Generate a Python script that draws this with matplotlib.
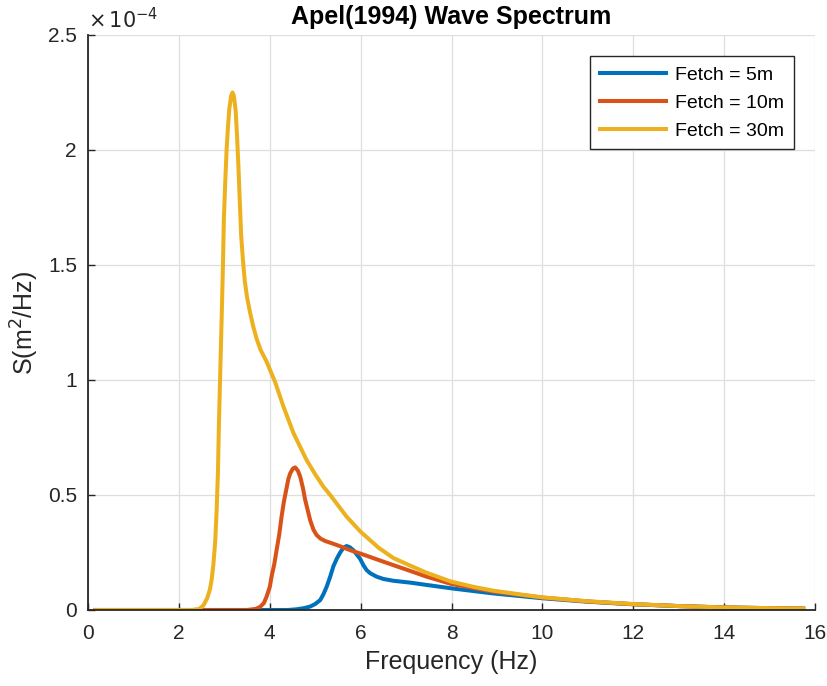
import matplotlib
matplotlib.use('Agg')
import matplotlib.pyplot as plt

# 频率 (Hz) 与谱值 (单位 1e-4 m^2/Hz)
freq_5m = [0.16, 4.40, 4.59, 4.75, 4.89, 5.00, 5.11, 5.18, 5.25, 5.33, 5.40, 5.48, 5.55, 5.62,
           5.69, 5.76, 5.84, 5.92, 5.99, 6.06, 6.13, 6.21, 6.35, 6.50, 6.72, 7.09, 7.45, 8.00,
           8.92, 10.0, 11.0, 12.0, 13.0, 14.0, 15.0, 15.74]
s_5m = [0.0, 0.0, 0.003, 0.008, 0.015, 0.026, 0.043, 0.068, 0.100, 0.145, 0.190, 0.225, 0.250, 0.270,
        0.278, 0.273, 0.260, 0.240, 0.222, 0.195, 0.174, 0.160, 0.145, 0.135, 0.127, 0.119, 0.109, 0.094,
        0.072, 0.051, 0.036, 0.025, 0.017, 0.011, 0.008, 0.006]

freq_10m = [0.16, 3.50, 3.70, 3.79, 3.87, 3.93, 4.00, 4.04, 4.10, 4.15, 4.21, 4.26, 4.31, 4.36,
            4.41, 4.45, 4.51, 4.56, 4.62, 4.67, 4.73, 4.78, 4.84, 4.89, 4.96, 5.03, 5.12, 5.22,
            5.47, 5.77, 6.00, 6.43, 6.72, 7.09, 7.45, 8.00, 8.92, 10.0, 11.0, 12.0, 13.0, 14.0,
            15.0, 15.74]
s_10m = [0.0, 0.0, 0.005, 0.014, 0.030, 0.058, 0.100, 0.145, 0.200, 0.260, 0.330, 0.406, 0.470, 0.520,
         0.570, 0.594, 0.615, 0.620, 0.605, 0.580, 0.530, 0.478, 0.430, 0.390, 0.350, 0.326, 0.310, 0.300,
         0.283, 0.260, 0.245, 0.215, 0.195, 0.170, 0.145, 0.113, 0.080, 0.054, 0.037, 0.025, 0.017, 0.011,
         0.008, 0.006]

freq_30m = [0.16, 2.30, 2.45, 2.54, 2.62, 2.68, 2.72, 2.76, 2.80, 2.83, 2.86, 2.88, 2.91, 2.94,
            2.97, 2.99, 3.02, 3.05, 3.08, 3.11, 3.15, 3.18, 3.21, 3.25, 3.28, 3.31, 3.34, 3.37,
            3.41, 3.45, 3.50, 3.57, 3.64, 3.71, 3.80, 3.93, 4.12, 4.30, 4.52, 4.81, 5.00, 5.18,
            5.33, 5.69, 6.00, 6.40, 6.72, 7.09, 7.45, 8.00, 8.50, 8.92, 9.50, 10.0, 11.0, 12.0,
            13.0, 14.0, 15.0, 15.74]
s_30m = [0.0, 0.0, 0.005, 0.020, 0.050, 0.087, 0.130, 0.200, 0.300, 0.430, 0.600, 0.800, 1.030, 1.260,
         1.500, 1.700, 1.860, 2.000, 2.100, 2.180, 2.235, 2.250, 2.235, 2.170, 2.060, 1.930, 1.780, 1.630,
         1.520, 1.430, 1.360, 1.290, 1.230, 1.180, 1.130, 1.080, 0.990, 0.885, 0.770, 0.652, 0.590, 0.536,
         0.500, 0.406, 0.340, 0.270, 0.226, 0.193, 0.162, 0.123, 0.100, 0.084, 0.068, 0.055, 0.038, 0.026,
         0.017, 0.011, 0.008, 0.006]

labels = ['Fetch = 5m', 'Fetch = 10m', 'Fetch = 30m']
colors = ['#0072BD', '#D95319', '#EDB120']
x_ticks = [0, 2, 4, 6, 8, 10, 12, 14, 16]
y_ticks = [0, 0.5, 1, 1.5, 2, 2.5]
y_tick_labels = ['0', '0.5', '1', '1.5', '2', '2.5']

plt.rcParams['font.family'] = ['Liberation Sans', 'DejaVu Sans']
fig = plt.figure(figsize=(8.28, 6.86), dpi=100)
ax = fig.add_axes([0.1063, 0.1108, 0.878, 0.8382])

# 画三条谱线
ax.plot(freq_5m, s_5m, color=colors[0], linewidth=2.9, label=labels[0])
ax.plot(freq_10m, s_10m, color=colors[1], linewidth=2.9, label=labels[1])
ax.plot(freq_30m, s_30m, color=colors[2], linewidth=2.9, label=labels[2])

ax.set_xlim(0, 16)
ax.set_ylim(0, 2.5)
ax.set_xticks(x_ticks)
ax.set_yticks(y_ticks)
ax.set_yticklabels(y_tick_labels)
ax.tick_params(direction='in', length=5, width=1, colors='#262626', labelsize=15)
ax.tick_params(axis='x', pad=10)
ax.tick_params(axis='y', pad=8)

# MATLAB 风格: 只保留左、下坐标轴
ax.spines['top'].set_visible(False)
ax.spines['right'].set_visible(False)
ax.spines['left'].set_color('#262626')
ax.spines['bottom'].set_color('#262626')
ax.spines['left'].set_linewidth(1.3)
ax.spines['bottom'].set_linewidth(1.3)
ax.grid(True, color='#dedede', linewidth=0.9)
ax.set_axisbelow(True)

ax.set_xlabel('Frequency (Hz)', fontsize=18, color='#262626', labelpad=5)
ax.set_ylabel('S(m$^2$/Hz)', fontsize=18, color='#262626', labelpad=5)
ax.set_title('Apel(1994) Wave Spectrum', fontsize=18, fontweight='bold', pad=8)
ax.text(0.0, 1.005, r'$\times\,10^{-4}$', transform=ax.transAxes, fontsize=15,
        color='#262626', ha='left', va='bottom')

leg = ax.legend(loc='upper right', fontsize=14, handlelength=3.4, handletextpad=0.45,
                labelspacing=0.53, borderaxespad=1.1, fancybox=False, framealpha=1,
                edgecolor='#262626', borderpad=0.5)
leg.get_frame().set_linewidth(1.0)

plt.savefig('out.png', dpi=100)
